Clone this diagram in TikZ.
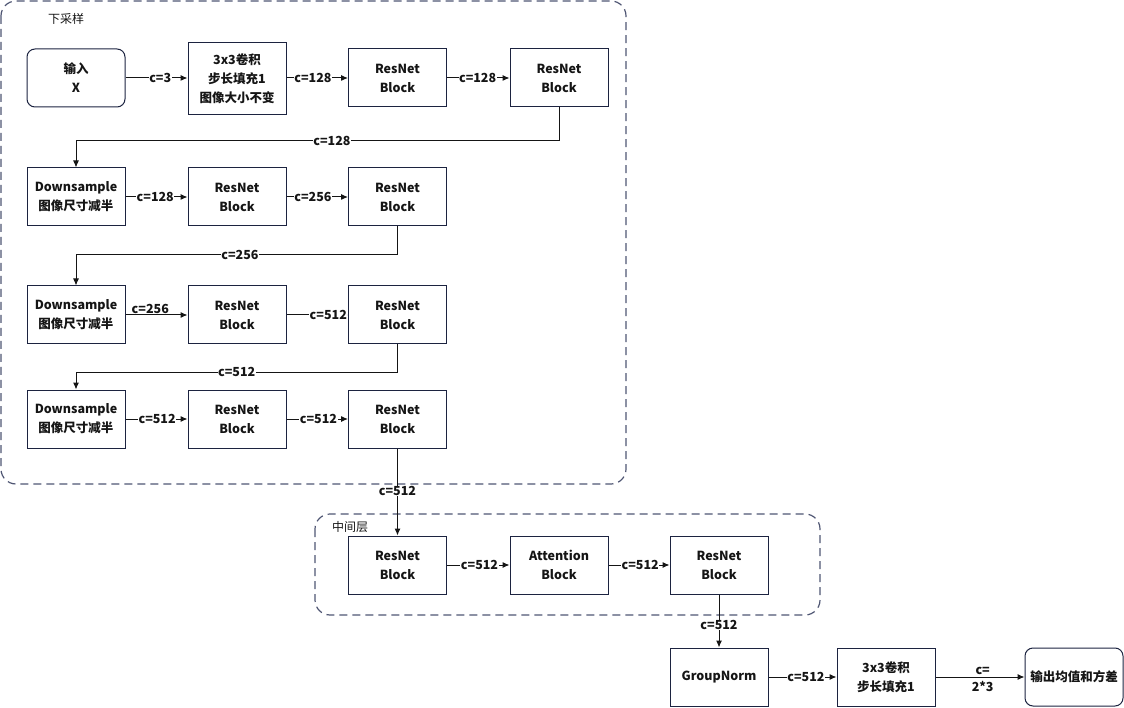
\documentclass[tikz,border=0pt]{standalone}
\usepackage{fontspec}
\setmainfont{Noto Sans CJK SC}
\usetikzlibrary{arrows.meta,positioning}
\definecolor{boxline}{HTML}{1C2340}
\definecolor{dashline}{HTML}{4F5673}
\definecolor{txt}{HTML}{151515}
\tikzset{
  blk/.style={draw=boxline, line width=1pt, minimum width=98pt, minimum height=58pt, inner sep=0pt, align=center, font=\fontsize{12.5}{19}\selectfont\bfseries, text=txt},
  rblk/.style={blk, rounded corners=8pt},
  arr/.style={draw=txt, line width=1pt, -{Latex[length=7pt,width=6pt]}},
  lbl/.style={fill=white, inner sep=0.5pt, font=\fontsize{12.5}{14}\selectfont\bfseries, text=txt},
  grp/.style={draw=dashline, line width=1.2pt, dash pattern=on 8pt off 5pt, rounded corners=15pt},
  grptitle/.style={font=\fontsize{12}{14}\selectfont, text=txt, anchor=center},
}
\begin{document}
\begin{tikzpicture}[x=1pt,y=-1pt]
\useasboundingbox (0,0) rectangle (1124,708);
% groups
\draw[grp] (1,1) rectangle (626,484);
\node[grptitle] (t1) at (66,19) {下采样};
\draw[grp] (315,514) rectangle (820,615);
\node[grptitle] (t2) at (350,527) {中间层};
% row 1
\node[rblk] (in) at (76,78) {输入\\X};
\node[blk, minimum height=72pt] (conv1) at (237,79) {3x3卷积\\步长填充1\\图像大小不变};
\node[blk] (r1a) at (397.5,78) {ResNet\\Block};
\node[blk] (r1b) at (559,78) {ResNet\\Block};
% row 2
\node[blk] (d1) at (76,197) {Downsample\\图像尺寸减半};
\node[blk] (r2a) at (237,197) {ResNet\\Block};
\node[blk] (r2b) at (397.5,197) {ResNet\\Block};
% row 3
\node[blk] (d2) at (76,315) {Downsample\\图像尺寸减半};
\node[blk] (r3a) at (237,315) {ResNet\\Block};
\node[blk] (r3b) at (397.5,315) {ResNet\\Block};
% row 4
\node[blk] (d3) at (76,419) {Downsample\\图像尺寸减半};
\node[blk] (r4a) at (237,419) {ResNet\\Block};
\node[blk] (r4b) at (397.5,419) {ResNet\\Block};
% middle
\node[blk] (m1) at (397.5,565) {ResNet\\Block};
\node[blk] (att) at (559,565) {Attention\\Block};
\node[blk] (m2) at (719,565) {ResNet\\Block};
% bottom
\node[blk] (gn) at (719,677) {GroupNorm};
\node[blk] (conv2) at (886,677) {3x3卷积\\步长填充1};
\node[rblk] (out) at (1074,677) {输出均值和方差};
% row 1 arrows
\draw[arr] (in.east) -- node[lbl,pos=0.56]{c=3} (in.east -| conv1.west);
\draw[arr] (in.east -| conv1.east) -- node[lbl,pos=0.43]{c=128} (r1a.west);
\draw[arr] (r1a.east) -- node[lbl,pos=0.49]{c=128} (r1b.west);
\draw[arr] (r1b.south) -- (r1b.south |- 0,141) -- node[lbl,pos=0.47]{c=128} (d1.north |- 0,141) -- (d1.north);
% row 2
\draw[arr] (d1.east) -- node[lbl,pos=0.48]{c=128} (r2a.west);
\draw[arr] (r2a.east) -- node[lbl,pos=0.43]{c=256} (r2b.west);
\draw[arr] (r2b.south) -- (r2b.south |- 0,255) -- node[lbl,pos=0.49]{c=256} (d2.north |- 0,255) -- (d2.north);
% row 3
\draw[arr] (d2.east) -- node[lbl,pos=0.4,above=0pt,fill=none]{c=256} (r3a.west);
\draw[arr] (r3a.east) -- node[lbl,pos=0.68]{c=512} (r3b.west);
\draw[arr] (r3b.south) -- (r3b.south |- 0,372) -- node[lbl,pos=0.5]{c=512} (d3.north |- 0,372) -- (d3.north);
% row 4
\draw[arr] (d3.east) -- node[lbl,pos=0.51]{c=512} (r4a.west);
\draw[arr] (r4a.east) -- node[lbl,pos=0.52]{c=512} (r4b.west);
\draw[arr] (r4b.south) -- node[lbl,pos=0.49]{c=512} (m1.north);
% middle
\draw[arr] (m1.east) -- node[lbl,pos=0.52]{c=512} (att.west);
\draw[arr] (att.east) -- node[lbl,pos=0.52]{c=512} (m2.west);
\draw[arr] (m2.south) -- node[lbl,pos=0.57]{c=512} (gn.north);
% bottom
\draw[arr] (gn.east) -- node[lbl,pos=0.55]{c=512} (conv2.west);
\draw[arr] (conv2.east) -- node[lbl,pos=0.53,above=1pt,fill=none]{c=} node[lbl,pos=0.53,below=3pt,fill=none]{2*3} (out.west);
\end{tikzpicture}
\end{document}
